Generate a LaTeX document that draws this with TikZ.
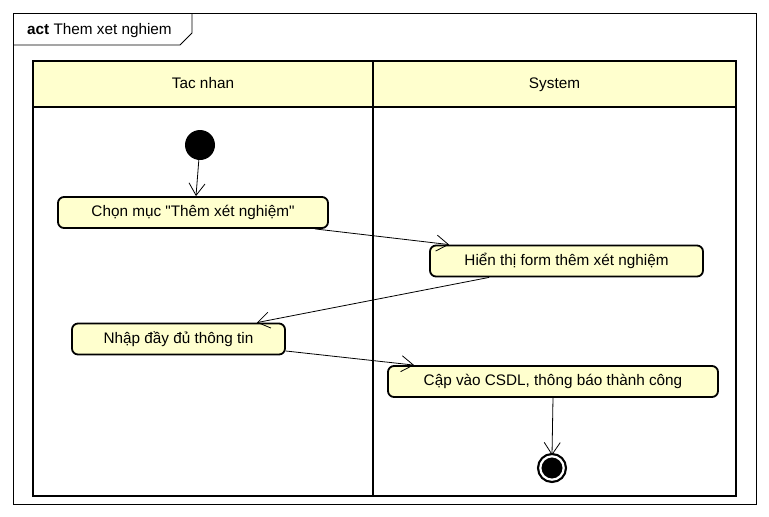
\documentclass[tikz,border=0pt]{standalone}
\usepackage{fontspec}
\setmainfont{Liberation Sans}
\usepackage{tikz}
\usetikzlibrary{arrows.meta}
\definecolor{notefill}{RGB}{255,255,206}
\tikzset{
	>={Straight Barb[length=12pt,width=16pt]}, % open arrow heads as in UML
	flow/.style={->, line width=0.8pt}, % control flow between actions
	action/.style={rectangle, rounded corners=6pt, draw, line width=1.8pt, fill=notefill, minimum height=31pt, text height=11pt, text depth=3pt, font=\fontsize{15.3}{18}\selectfont}, % the action boxes
	lanehead/.style={rectangle, draw, line width=1.8pt, fill=notefill, minimum height=46pt, text height=11pt, text depth=3pt, font=\fontsize{15.3}{18}\selectfont}, % swimlane title
	lanebody/.style={rectangle, draw, line width=1.8pt, minimum height=390pt}, % swimlane body
	startnode/.style={circle, fill=black, minimum size=30pt, inner sep=0pt}, % initial node
	endnode/.style={circle, draw, fill=black, double=white, double distance=2.2pt, line width=2.2pt, minimum size=23.4pt, inner sep=0pt}, % final node
}

\begin{document}
\begin{tikzpicture}[x=1pt, y=-1pt]
			\useasboundingbox (0,0) rectangle (769,517);
			% frame and its title tab
			\draw[line width=0.8pt] (13,13) rectangle (756,504);
			\draw[line width=0.8pt] (13,45) -- (180,45) -- (192,33) -- (192,13);
			\node[anchor=west, inner sep=0pt, font=\fontsize{15.3}{18}\selectfont] (title) at (27,31) {\textbf{act} Them xet nghiem};
			% swimlanes
			\node[lanebody, minimum width=340pt] (bodyA) at (203,301) {};
			\node[lanebody, minimum width=363pt] (bodyB) at (554.5,301) {};
			\node[lanehead, minimum width=340pt] (laneA) at (203,84) {Tac nhan};
			\node[lanehead, minimum width=363pt] (laneB) at (554.5,84) {System};
			% actions
			\node[startnode] (start) at (200,145) {};
			\node[action, minimum width=270pt] (chon) at (193,212.5) {Chọn mục \textquotedbl Thêm xét nghiệm\textquotedbl};
			\node[action, minimum width=273pt] (hienthi) at (566.5,261) {Hiển thị form thêm xét nghiệm};
			\node[action, minimum width=213pt] (nhap) at (178.5,339) {Nhập đầy đủ thông tin};
			\node[action, minimum width=330pt] (capnhat) at (553,381.5) {Cập vào CSDL, thông báo thành công};
			\node[endnode] (stop) at (552,468) {};
			% flows
			\draw[flow] (start) -- ([xshift=3pt]chon.north);
			\draw[flow] ([xshift=-14pt]chon.south east) -- ([xshift=20pt]hienthi.north west);
			\draw[flow] ([xshift=60pt]hienthi.south west) -- ([xshift=-29pt]nhap.north east);
			\draw[flow] ([yshift=-12pt]nhap.east) -- ([xshift=27pt]capnhat.north west);
			\draw[flow] (capnhat.south) -- (stop.north);
		\end{tikzpicture}
\end{document}
